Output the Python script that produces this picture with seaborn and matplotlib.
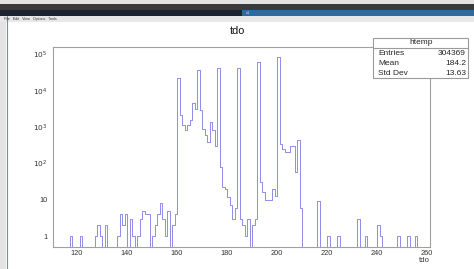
import numpy as np
import pandas as pd
import matplotlib
matplotlib.use("Agg")
import matplotlib.pyplot as plt
from matplotlib.patches import Rectangle
from matplotlib.lines import Line2D
from matplotlib.ticker import FixedLocator, LogLocator, MultipleLocator, FuncFormatter, NullFormatter
import seaborn as sns

# tdo histogram, 1-wide bins [k, k+1); only non-empty bins listed
tdo_bins = [117, 121, 127, 128, 129, 131, 136, 137, 138, 139, 141, 142, 144, 145, 146, 147, 148,
            150, 151, 152, 153, 154, 155, 156, 158, 159,
            160, 161, 162, 163, 164, 165, 166, 167, 168, 169, 170, 171, 172, 173, 174, 175,
            176, 177, 178, 179, 180, 181, 182, 183, 184, 185, 186, 187, 188, 190, 191,
            192, 193, 194, 195, 196, 197, 198, 199, 200, 201, 202, 203, 204, 205, 206, 207, 208, 209,
            216, 220, 224, 232, 235, 240, 241, 248, 252, 255]
tdo_counts = [1, 1, 1, 2, 1, 2, 1, 4, 2, 4, 3, 1, 1, 3, 5, 4, 4,
              1, 2, 4, 8, 3, 1, 5, 2, 4,
              22000, 2200, 1150, 830, 1150, 1600, 4700, 3100, 37000, 3000, 900, 600, 400, 1400, 850, 300,
              42000, 80, 23, 20, 12, 7, 3, 6, 42000, 3, 2, 1, 3, 2, 3,
              63000, 31, 16, 10, 10, 10, 20, 13, 83000, 340, 250, 210, 210, 300, 300, 59, 450, 6,
              9, 1, 1, 3, 1, 2, 1, 1, 1, 1]
bin_lo, bin_hi = 111, 261

stat_names = ["Entries", "Mean", "Std Dev"]
stat_values = ["304369", "184.2", "13.63"]
y_decades = [1, 10, 100, 1000, 10000, 100000]

W, H = 474, 269


def fx(px):
    return px / W


def fy(py):
    return 1 - py / H


sns.set_style("white")
plt.rcParams['font.family'] = ['Liberation Sans', 'DejaVu Sans']

fig = plt.figure(figsize=(W / 100, H / 100), dpi=100)


# window chrome around the ROOT canvas
def box(x0, y0, x1, y1, color):
    fig.patches.append(Rectangle((fx(x0), fy(y1)), fx(x1) - fx(x0), fy(y0) - fy(y1),
                                 transform=fig.transFigure, facecolor=color, edgecolor='none'))


box(0, 0, W, 4, '#e2e2e2')
box(0, 4, W, 10, '#3a3a3a')
box(0, 10, 242, 16, '#1b2430')
box(242, 10, W, 16, '#2c6ba1')
box(0, 16, W, 22, '#e8e8e8')
box(0, 22, 6, H, '#e3e3e3')
fig.lines.append(Line2D([fx(6.5), fx(6.5)], [fy(16), 0], transform=fig.transFigure,
                        color='#7d8aa0', lw=0.8))
fig.text(fx(4), fy(19), "File   Edit   View   Options   Tools", fontsize=2.6, color='#333333',
         va='center')
fig.text(fx(246), fy(13), "c1", fontsize=3, color='#dddddd', va='center')

df = pd.DataFrame({'tdo': tdo_bins, 'count': tdo_counts})
df['tdo'] = df['tdo'] + 0.5  # bin centres

ax = fig.add_axes([fx(53), fy(247), fx(430) - fx(53), fy(47) - fy(247)])
sns.histplot(data=df, x='tdo', weights='count', binwidth=1, binrange=(bin_lo, bin_hi),
             element='step', fill=False, color='#8d8de8', linewidth=0.7, ax=ax)
ax.set_yscale('log')
ax.set_xlim(110.4, 261.2)
ax.set_ylim(0.5, 1.6e5)
ax.set_xlabel('')
ax.set_ylabel('')

for s in ax.spines.values():
    s.set_color('#a0a0a0')
    s.set_linewidth(0.8)

ax.xaxis.set_major_locator(MultipleLocator(20))
ax.xaxis.set_minor_locator(MultipleLocator(5))
ax.yaxis.set_major_locator(FixedLocator(y_decades))
ax.yaxis.set_minor_locator(LogLocator(base=10, subs=np.arange(2, 10)))
ax.yaxis.set_minor_formatter(NullFormatter())
ax.yaxis.set_major_formatter(FuncFormatter(
    lambda v, p: '1' if v == 1 else ('10' if v == 10 else r'$10^{%d}$' % round(np.log10(v)))))

ax.tick_params(axis='x', which='major', direction='in', length=4.5, width=0.6, color='#777777',
               labelsize=5.3, labelcolor='#333333', pad=2)
ax.tick_params(axis='x', which='minor', direction='in', length=2.3, width=0.6, color='#777777')
ax.tick_params(axis='y', which='major', direction='in', length=8, width=0.6, color='#888888',
               labelsize=5.3, labelcolor='#333333', pad=4)
ax.tick_params(axis='y', which='minor', direction='in', length=4.5, width=0.6, color='#aaaaaa')
ax.tick_params(top=False, right=False)

fig.text(fx(237), fy(31.5), "tdo", ha='center', va='center', fontsize=7.8, color='#111111')
fig.text(fx(430), fy(261), "tdo", ha='right', va='center', fontsize=5.5, color='#333333')

# statistics box
sx0, sy0, sx1, sy1 = 373, 38, 468, 78
fig.patches.append(Rectangle((fx(sx0), fy(sy1)), fx(sx1) - fx(sx0), fy(sy0) - fy(sy1),
                             transform=fig.transFigure, facecolor='white', edgecolor='#9a9a9a',
                             lw=0.8, zorder=5))
fig.lines.append(Line2D([fx(sx0), fx(sx1)], [fy(48), fy(48)], transform=fig.transFigure,
                        color='#9a9a9a', lw=0.8, zorder=6))
fig.text(fx(421), fy(43), "htemp", ha='center', va='center', fontsize=6, zorder=7)
for i, (n, v) in enumerate(zip(stat_names, stat_values)):
    yy = fy(53.5 + 10 * i)
    fig.text(fx(378), yy, n, ha='left', va='center', fontsize=6, zorder=7)
    fig.text(fx(466), yy, v, ha='right', va='center', fontsize=6, zorder=7)

fig.savefig('out.png', dpi=100)
